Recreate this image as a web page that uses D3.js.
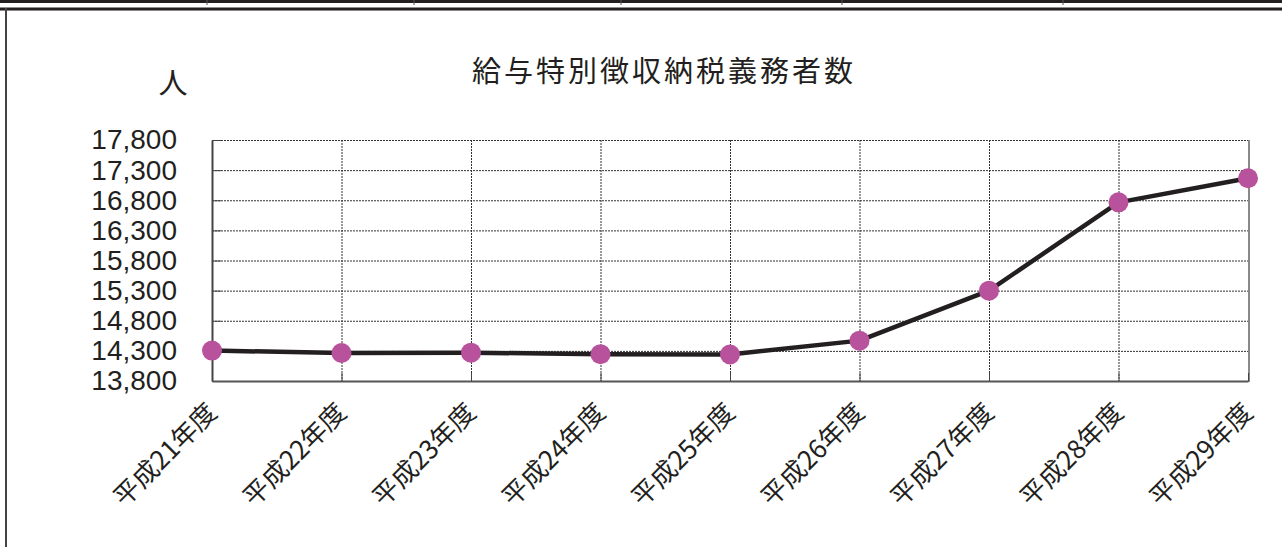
<!DOCTYPE html>
<html>
<head>
<meta charset="utf-8">
<script src="https://cdn.jsdelivr.net/npm/d3@7"></script>
<style>
  body { margin: 0; background: #fff; }
  svg { display: block; }
</style>
</head>
<body>
<div id="chart"></div>
<script>
// Data
const years = ["平成21年度", "平成22年度", "平成23年度", "平成24年度", "平成25年度",
  "平成26年度", "平成27年度", "平成28年度", "平成29年度"];
const counts = [14305, 14265, 14270, 14245, 14240, 14470, 15300, 16765, 17165];
const yTicks = [13800, 14300, 14800, 15300, 15800, 16300, 16800, 17300, 17800];
const title = "給与特別徴収納税義務者数";
const unit = "人";

const W = 1282, H = 547;
const ink = "#231f20";
const jp = "'Noto Sans CJK JP', sans-serif";

const svg = d3.select("#chart").append("svg")
  .attr("width", W).attr("height", H);

// Table fragment at the very top
svg.append("rect").attr("x", 0).attr("y", 0).attr("width", W).attr("height", 3).attr("fill", ink);
[207, 414, 621, 842, 1063].forEach(x => {
  svg.append("line").attr("x1", x).attr("x2", x).attr("y1", 0).attr("y2", 5)
    .attr("stroke", "#555").attr("stroke-width", 1);
});

// Outer frame
svg.append("rect").attr("x", 0).attr("y", 7.5).attr("width", W + 10).attr("height", 3).attr("fill", ink);
svg.append("line").attr("x1", 0).attr("x2", W).attr("y1", 10.5).attr("y2", 10.5)
  .attr("stroke", "#888").attr("stroke-width", 1);
svg.append("line").attr("x1", 6).attr("x2", 6).attr("y1", 8).attr("y2", H)
  .attr("stroke", "#444").attr("stroke-width", 2);

// Plot area
const plot = { left: 212, right: 1248, top: 140, bottom: 381 };
const x = d3.scalePoint().domain(years).range([plot.left, plot.right]);
const y = d3.scaleLinear().domain([13800, 17800]).range([plot.bottom, plot.top]);

// Horizontal grid
svg.append("g")
  .selectAll("line")
  .data(yTicks.slice(1))
  .join("line")
  .attr("x1", plot.left).attr("x2", plot.right)
  .attr("y1", d => y(d) + 0.5).attr("y2", d => y(d) + 0.5)
  .attr("stroke", "#333").attr("stroke-width", 1)
  .attr("stroke-dasharray", "2,1");

// Vertical grid
svg.append("g")
  .selectAll("line")
  .data(years.slice(1, -1))
  .join("line")
  .attr("x1", d => x(d) + 0.5).attr("x2", d => x(d) + 0.5)
  .attr("y1", plot.top).attr("y2", plot.bottom)
  .attr("stroke", "#333").attr("stroke-width", 1)
  .attr("stroke-dasharray", "2,1");

// Right edge
svg.append("line")
  .attr("x1", plot.right + 1).attr("x2", plot.right + 1)
  .attr("y1", plot.top).attr("y2", plot.bottom + 1)
  .attr("stroke", "#8a8a8a").attr("stroke-width", 2);

// Y axis
const yAxis = svg.append("g")
  .attr("transform", `translate(${plot.left},0)`)
  .call(d3.axisLeft(y).tickValues(yTicks).tickSizeInner(-9).tickSizeOuter(0)
    .tickPadding(35).tickFormat(d3.format(",")));
yAxis.select(".domain").attr("stroke", "#444").attr("stroke-width", 2);
yAxis.selectAll(".tick line").attr("stroke", "#444").attr("stroke-width", 1);
yAxis.selectAll(".tick text")
  .attr("fill", ink)
  .style("font-family", "'Liberation Sans', Arial, sans-serif")
  .style("font-size", "28px");

// X axis
const xAxis = svg.append("g")
  .attr("transform", `translate(0,${plot.bottom})`)
  .call(d3.axisBottom(x).tickSizeInner(-8).tickSizeOuter(0).tickPadding(0));
xAxis.select(".domain").attr("stroke", "#555").attr("stroke-width", 2);
xAxis.selectAll(".tick line").attr("stroke", "#444").attr("stroke-width", 1);
xAxis.selectAll(".tick text")
  .attr("fill", ink)
  .attr("y", 0).attr("dy", 0)
  .attr("text-anchor", "end")
  .attr("transform", "translate(6,33) rotate(-45)")
  .style("font-family", jp)
  .style("font-size", "26px");

// Line
const line = d3.line().x((d, i) => x(years[i])).y(d => y(d));
svg.append("path")
  .datum(counts)
  .attr("fill", "none")
  .attr("stroke", ink)
  .attr("stroke-width", 4.5)
  .attr("stroke-linejoin", "round")
  .attr("d", line);

// Markers
svg.append("g")
  .selectAll("circle")
  .data(counts)
  .join("circle")
  .attr("cx", (d, i) => x(years[i]))
  .attr("cy", d => y(d))
  .attr("r", 10)
  .attr("fill", "#b8529d");

// Title
svg.append("text")
  .attr("x", 664).attr("y", 82)
  .attr("text-anchor", "middle")
  .style("font-family", jp)
  .style("font-size", "29px")
  .style("letter-spacing", "3px")
  .attr("fill", ink)
  .text(title);

// Unit label
svg.append("text")
  .attr("x", 173).attr("y", 94)
  .attr("text-anchor", "middle")
  .style("font-family", jp)
  .style("font-size", "29px")
  .attr("fill", ink)
  .text(unit);
</script>
</body>
</html>
